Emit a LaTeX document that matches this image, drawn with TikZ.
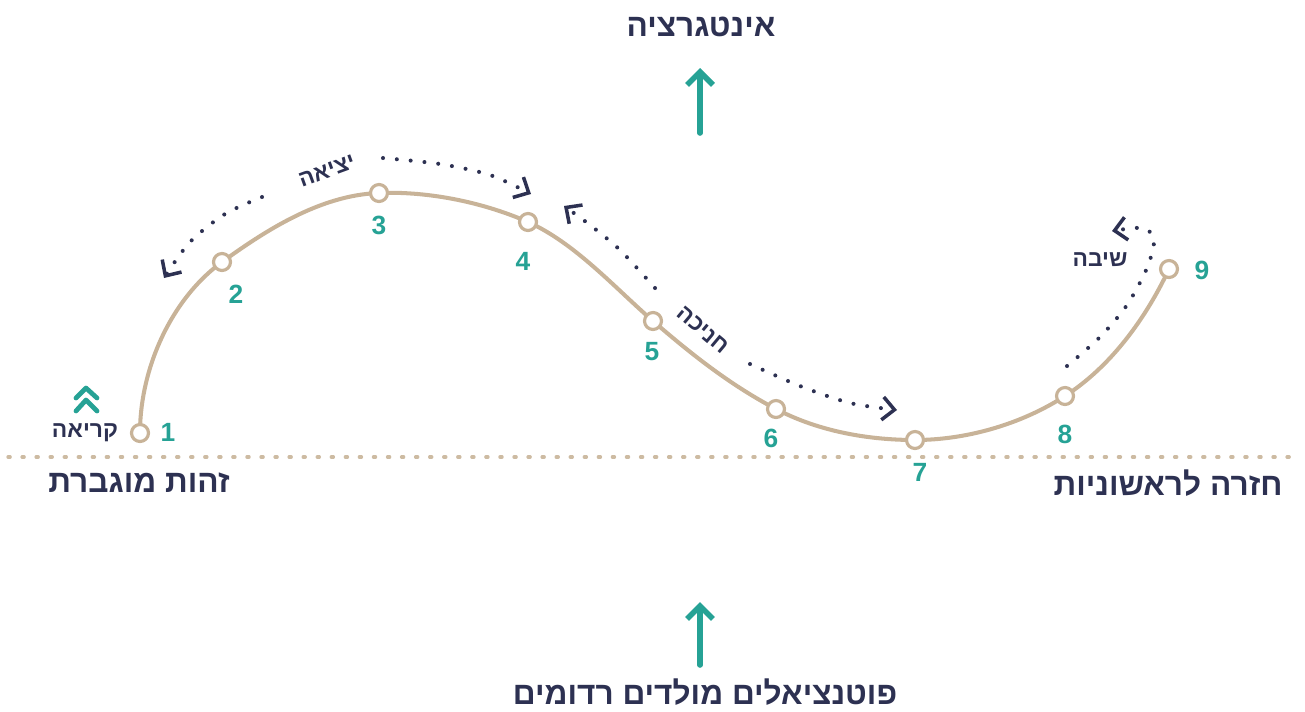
\documentclass[tikz,border=0pt]{standalone}
\usepackage{fontspec}
\setmainfont{Liberation Sans}
\newfontfamily\hebfont[Script=Hebrew]{Liberation Sans}
\TeXXeTstate=1
\usetikzlibrary{arrows.meta}
\definecolor{HeroInk}{HTML}{2D3152}
\definecolor{HeroTeal}{HTML}{26A295}
\definecolor{HeroSand}{HTML}{C8B398}
\newcommand\heb[1]{{\hebfont\beginR#1\endR}}
\tikzset{
    hero/diagram/.style={
        x=0.02cm, y=-0.02cm,
        line cap=round,
        line join=round
    },
    hero/curve/.style={draw=HeroSand, line width=2.3pt},
    hero/ground/.style={
        draw=HeroSand!90, line width=1.9pt,
        dash pattern=on 1.2pt off 6.8pt
    },
    hero/stop/.style={
        circle, draw=HeroSand, fill=white, line width=1.8pt,
        minimum size=3.4mm, inner sep=0pt
    },
    hero/num/.style={
        text=HeroTeal, font=\bfseries\fontsize{15}{15}\selectfont,
        inner sep=0pt
    },
    hero/phase/.style={
        text=HeroInk, font=\bfseries\fontsize{13}{13}\selectfont,
        inner sep=0pt
    },
    hero/title/.style={
        text=HeroInk, font=\bfseries\fontsize{18}{18}\selectfont,
        inner sep=0pt, anchor=base
    },
    hero/trail/.style={
        draw=HeroInk, line width=2.3pt,
        dash pattern=on 0pt off 7.9pt
    },
    hero/turn/.style={
        -{Straight Barb[length=2.4mm, width=4.6mm, line width=2pt]}
    },
    hero/rise/.style={
        draw=HeroTeal, line width=3.2pt,
        -{Straight Barb[length=2.6mm, width=5.2mm]}
    },
    hero/chevron/.style={draw=HeroTeal, line width=2.7pt}
}
\begin{document}
\begin{tikzpicture}[hero/diagram]
    \useasboundingbox (0,0) rectangle (1305,711);
    % ground line
    \coordinate (g0) at (8,457);
    \coordinate (g1) at (1300,457);
    \draw[hero/ground] (g0) -- (g1);
    % stations of the path
    \coordinate (c1) at (140,433);
    \coordinate (c2) at (222,262);
    \coordinate (c3) at (379,193);
    \coordinate (c4) at (528,222);
    \coordinate (c5) at (653,321);
    \coordinate (c6) at (776,409);
    \coordinate (c7) at (915,440);
    \coordinate (c8) at (1065,396);
    \coordinate (c9) at (1169,269);
    \draw[hero/curve] (c1)
        .. controls (140,370) and (170,300) .. (c2)
        .. controls (265,231) and (320,195) .. (c3)
        .. controls (430,191) and (485,203) .. (c4)
        .. controls (575,243) and (615,288) .. (c5)
        .. controls (690,353) and (730,385) .. (c6)
        .. controls (820,432) and (870,440) .. (c7)
        .. controls (965,440) and (1020,425) .. (c8)
        .. controls (1110,367) and (1145,320) .. (c9);
    \foreach \i in {1,...,9}
        \node[hero/stop] (p\i) at (c\i) {};
    \node[hero/num] (n1) at (168,432) {1};
    \node[hero/num] (n2) at (236,294) {2};
    \node[hero/num] (n3) at (379,225) {3};
    \node[hero/num] (n4) at (523,261) {4};
    \node[hero/num] (n5) at (652,352) {5};
    \node[hero/num] (n6) at (771,438) {6};
    \node[hero/num] (n7) at (920,472) {7};
    \node[hero/num] (n8) at (1065,434) {8};
    \node[hero/num] (n9) at (1202,270) {9};
    % call
    \node[hero/phase] (call) at (85,433) {\heb{קריאה}};
    \draw[hero/chevron] (76,398) -- (86,388) -- (97,398);
    \draw[hero/chevron] (76,411) -- (86,400) -- (97,411);
    % departure
    \node[hero/phase, rotate=20] (exit) at (327,171) {\heb{יציאה}};
    \draw[hero/trail, hero/turn] plot[smooth] coordinates
        {(262,197) (225,214) (190,242) (164,278)};
    \draw[hero/trail, hero/turn] plot[smooth] coordinates
        {(383,158) (440,164) (490,175) (531,194)};
    % initiation
    \node[hero/phase, rotate=-40] (init) at (703,330) {\heb{חניכה}};
    \draw[hero/trail, hero/turn] plot[smooth] coordinates
        {(655,288) (620,250) (590,225) (564,206)};
    \draw[hero/trail, hero/turn] plot[smooth] coordinates
        {(750,364) (800,386) (850,403) (897,410)};
    % return
    \node[hero/phase] (back) at (1100,260) {\heb{שיבה}};
    \draw[hero/trail, hero/turn] plot[smooth] coordinates
        {(1067,366) (1100,337) (1127,305) (1147,268) (1154,240)
         (1143,228) (1112,231)};
    % poles
    \node[hero/title] (top) at (701,36) {\heb{אינטגרציה}};
    \node[hero/title] (bottom) at (705,704) {\heb{פוטנציאלים מולדים רדומים}};
    \node[hero/title] (self) at (139,492) {\heb{זהות מוגברת}};
    \node[hero/title] (origin) at (1168,495) {\heb{חזרה לראשוניות}};
    \coordinate (t0) at (700,133);
    \coordinate (t1) at (700,68);
    \coordinate (b0) at (700,665);
    \coordinate (b1) at (700,602);
    \draw[hero/rise] (t0) -- (t1);
    \draw[hero/rise] (b0) -- (b1);
\end{tikzpicture}
\end{document}
